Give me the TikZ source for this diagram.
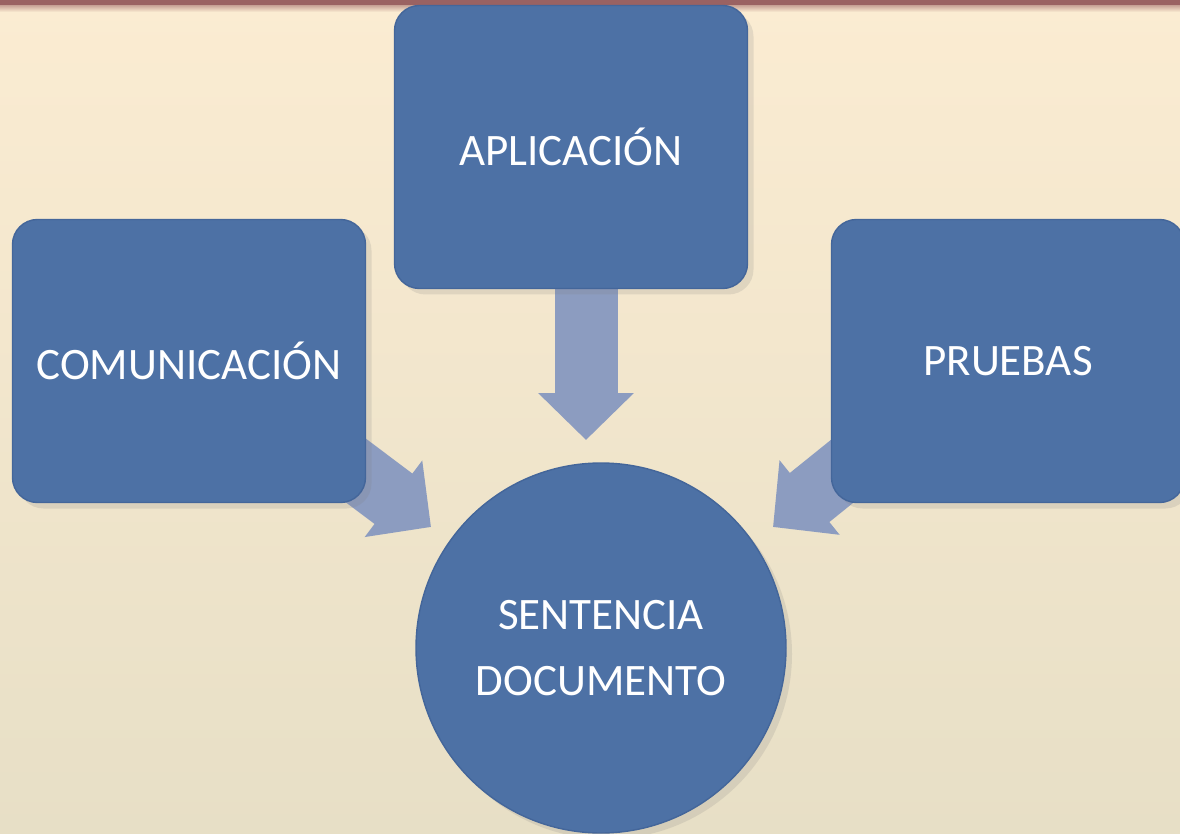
\documentclass[tikz,border=0pt]{standalone}
\usepackage{fontspec}
\setmainfont{Carlito}
\usetikzlibrary{arrows.meta,shadows}
\pgfdeclarelayer{bg}
\pgfdeclarelayer{arrows}
\pgfsetlayers{bg,arrows,main}

\definecolor{paper}{HTML}{FBECD2}
\definecolor{paperlow}{HTML}{E7DFC6}
\definecolor{bandred}{HTML}{9A6262}
\definecolor{boxblue}{HTML}{4D71A5}
\definecolor{boxedge}{HTML}{44669A}
\definecolor{arrowblue}{HTML}{8C9CC0}

\tikzset{
  stage/.style={rectangle, rounded corners=2.5mm, fill=boxblue, draw=boxedge,
    text=white, font=\fontsize{12.8}{19}\selectfont, align=center,
    minimum width=35.3mm, minimum height=28.3mm, inner sep=0pt,
    drop shadow={opacity=0.18, shadow xshift=0.6mm, shadow yshift=-0.6mm}},
  goal/.style={stage, circle, minimum size=37mm},
  flow/.style={arrowblue, line width=6.3mm,
    -{Triangle[width=9.3mm,length=4.7mm]}}
}

\begin{document}
\begin{tikzpicture}[x=0.1mm,y=-0.1mm]
  % page
  \begin{pgfonlayer}{bg}
    \shade[top color=paper, bottom color=paperlow] (0,0) rectangle (1180,834);
    \shade[top color=bandred!55!paper, bottom color=paper] (0,5) rectangle (1180,12);
    \fill[bandred] (0,0) rectangle (1180,5);
  \end{pgfonlayer}
  \useasboundingbox (0,0) rectangle (1180,834);

  % blocks
  \node[stage] (apl) at (571,147) {APLICACIÓN};
  \node[stage] (com) at (189,361) {COMUNICACIÓN};
  \node[stage] (pru) at (1008,361) {PRUEBAS};
  \node[goal] (sen) at (601,648) {SENTENCIA\\DOCUMENTO};

  % arrow ends
  \coordinate (aplend) at (586,440);
  \coordinate (comend) at (431,527);
  \coordinate (pruend) at (773,527);

  \begin{pgfonlayer}{arrows}
    \draw[flow] (apl.south -| aplend) ++(0,-5) -- (aplend);
    \draw[flow] (com.south east) ++(-40,-55) -- (comend);
    \draw[flow] (pru.south west) ++(40,-55) -- (pruend);
  \end{pgfonlayer}
\end{tikzpicture}
\end{document}
